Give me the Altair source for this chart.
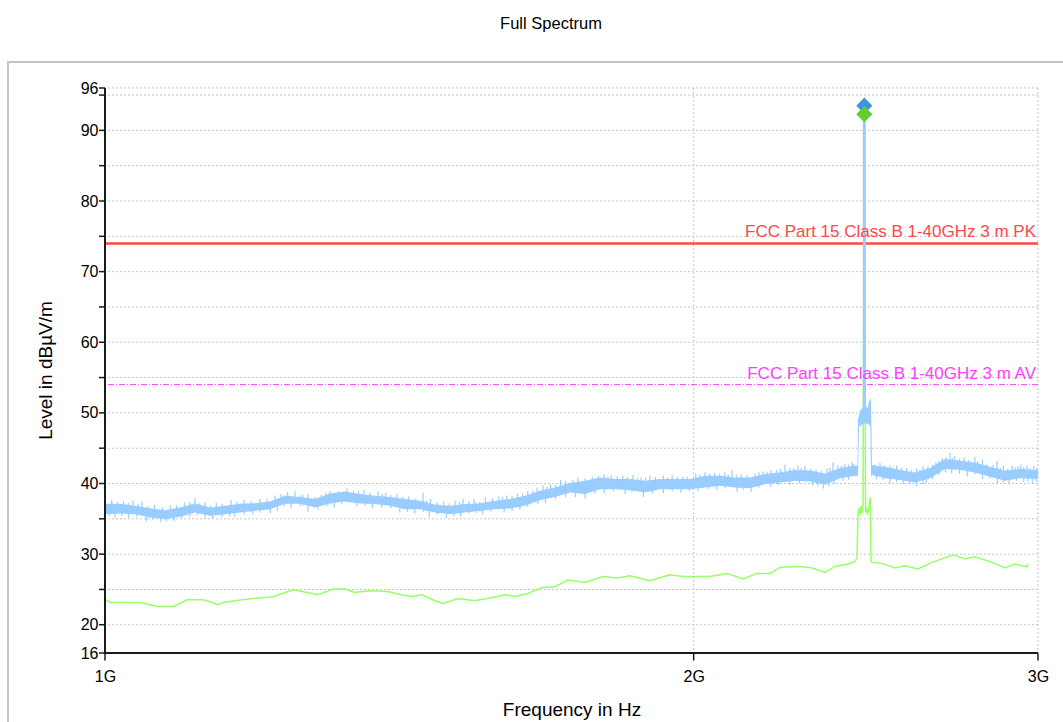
import altair as alt
import pandas as pd

# Peak detector trace, drawn as the band between its lower and upper envelope
# frequency in GHz, level in dBµV/m
pk_freq = [1.0000, 1.0178, 1.0360, 1.0544, 1.0732, 1.0923, 1.1118, 1.1316, 1.1518, 1.1723,
           1.1932, 1.2145, 1.2361, 1.2581, 1.2806, 1.3034, 1.3266, 1.3502, 1.3743, 1.3988,
           1.4237, 1.4490, 1.4749, 1.5011, 1.5279, 1.5551, 1.5828, 1.6110, 1.6397, 1.6689,
           1.6987, 1.7289, 1.7597, 1.7911, 1.8230, 1.8555, 1.8885, 1.9222, 1.9564, 1.9913,
           2.0268, 2.0629, 2.0996, 2.1370, 2.1751, 2.2139, 2.2533, 2.2935, 2.3344, 2.3760,
           2.4184, 2.4256, 2.4270, 2.4299, 2.4327, 2.4356, 2.4385, 2.4413, 2.4451, 2.4486,
           2.4515, 2.4543, 2.4572, 2.4601, 2.4624, 2.4644, 2.4673, 2.5053, 2.5500, 2.5954,
           2.6417, 2.6888, 2.7367, 2.7854, 2.8351, 2.8856, 2.9370, 3.0000]
pk_low = [35.66, 35.75, 35.66, 35.18, 34.95, 35.28, 35.90, 35.42, 35.66, 35.90,
          36.13, 36.37, 37.12, 37.12, 36.60, 37.17, 37.45, 37.17, 37.08, 36.84,
          36.37, 36.37, 35.90, 35.66, 35.90, 36.13, 36.37, 36.46, 36.84, 37.64,
          38.10, 38.73, 38.50, 39.20, 39.20, 39.06, 38.73, 39.20, 39.20, 39.20,
          39.43, 39.67, 39.43, 39.34, 39.90, 40.14, 40.38, 40.30, 39.82, 40.76,
          41.09, 41.09, 41.00, 47.80, 48.40, 48.00, 48.50, 48.30, 48.60, 48.20,
          48.60, 48.30, 48.50, 48.20, 48.00, 41.00, 41.20, 40.76, 40.48, 40.14,
          40.76, 42.04, 41.90, 41.56, 40.95, 40.38, 40.76, 40.62]
pk_high = [37.12, 37.12, 36.84, 36.50, 36.23, 36.60, 37.17, 36.60, 36.84, 37.12,
           37.20, 37.45, 38.26, 38.10, 37.80, 38.58, 38.87, 38.50, 38.26, 38.10,
           37.80, 37.55, 36.98, 36.84, 37.08, 37.17, 37.55, 37.80, 38.26, 38.97,
           39.43, 40.07, 40.38, 40.85, 40.62, 40.62, 40.38, 40.62, 40.62, 40.62,
           41.09, 41.09, 40.85, 40.85, 41.33, 41.56, 41.90, 41.85, 41.42, 42.18,
           42.51, 42.50, 49.10, 49.60, 50.50, 50.20, 50.80, 50.50, 50.90, 50.40,
           50.90, 50.60, 51.30, 51.80, 52.00, 51.90, 42.60, 42.37, 41.90, 41.56,
           42.18, 43.46, 43.22, 42.98, 42.37, 41.80, 42.04, 41.90]

# Noise spikes poking out above the peak band
spike_up_freq = [1.008, 1.015, 1.022, 1.028, 1.0335, 1.040, 1.0445, 1.052, 1.060, 1.070,
                 1.080, 1.088, 1.098, 1.105, 1.1118, 1.118, 1.125, 1.132, 1.140, 1.148,
                 1.160, 1.168, 1.178, 1.188, 1.200, 1.210, 1.2216, 1.230, 1.240, 1.2507,
                 1.262, 1.270, 1.280, 1.290, 1.297, 1.3034, 1.316, 1.3297, 1.340, 1.348,
                 1.3566, 1.366, 1.3791, 1.386, 1.392, 1.400, 1.410, 1.420, 1.430, 1.442,
                 1.4542, 1.460, 1.467, 1.478, 1.490, 1.500, 1.510, 1.518, 1.5243, 1.535,
                 1.5442, 1.555, 1.565, 1.578, 1.590, 1.597, 1.605, 1.615, 1.625, 1.635,
                 1.645, 1.655, 1.6631, 1.6748, 1.682, 1.690, 1.700, 1.710, 1.720, 1.735,
                 1.745, 1.760, 1.775, 1.788, 1.800, 1.808, 1.815, 1.828, 1.840, 1.850,
                 1.8621, 1.872, 1.880, 1.890, 1.8997, 1.912, 1.930, 1.940, 1.950, 1.962,
                 1.975, 1.985, 2.005, 2.015, 2.0268, 2.038, 2.050, 2.062, 2.075, 2.083,
                 2.0924, 2.104, 2.115, 2.130, 2.150, 2.160, 2.170, 2.180, 2.190, 2.205,
                 2.215, 2.2270, 2.240, 2.250, 2.2613, 2.270, 2.280, 2.295, 2.310, 2.325,
                 2.340, 2.348, 2.3566, 2.370, 2.380, 2.390, 2.400, 2.410, 2.415, 2.475,
                 2.4906, 2.505, 2.520, 2.530, 2.540, 2.555, 2.570, 2.585, 2.600, 2.610,
                 2.620, 2.635, 2.650, 2.660, 2.670, 2.680, 2.692, 2.7047, 2.712, 2.720,
                 2.735, 2.750, 2.765, 2.7854, 2.795, 2.810, 2.825, 2.845, 2.8586, 2.870,
                 2.880, 2.895, 2.910, 2.920, 2.930, 2.940, 2.950, 2.9614, 2.972, 2.985,
                 2.995]
spike_up_level = [37.7, 37.4, 37.5, 37.3, 37.6, 37.1, 37.5, 36.8, 37.0, 36.6,
                  36.9, 36.9, 37.3, 37.4, 37.9, 37.2, 37.4, 36.9, 37.3, 37.1,
                  37.6, 37.4, 37.7, 37.5, 37.8, 37.8, 38.3, 38.5, 38.8, 38.9,
                  38.4, 38.5, 38.1, 38.4, 38.7, 38.9, 38.9, 39.3, 39.0, 38.9,
                  39.1, 38.7, 38.9, 38.5, 38.7, 38.4, 38.5, 38.1, 38.2, 37.9,
                  38.7, 37.6, 37.8, 37.3, 37.5, 37.2, 37.6, 37.4, 37.8, 37.5,
                  37.8, 37.5, 38.0, 37.9, 38.2, 38.1, 38.3, 38.2, 38.6, 38.6,
                  38.9, 39.0, 39.4, 39.7, 39.5, 39.9, 39.8, 40.5, 40.4, 40.5,
                  40.8, 40.7, 41.0, 41.1, 41.3, 41.0, 41.2, 41.0, 41.1, 40.9,
                  41.2, 40.8, 40.9, 40.8, 41.1, 40.9, 41.1, 40.9, 41.2, 40.9,
                  41.0, 41.0, 41.4, 41.3, 41.6, 41.4, 41.5, 41.4, 41.6, 41.3,
                  41.9, 41.2, 41.3, 41.2, 41.4, 41.6, 41.7, 41.7, 41.9, 41.9,
                  42.1, 42.7, 42.2, 42.2, 42.6, 42.2, 42.5, 42.1, 42.0, 41.8,
                  42.1, 42.2, 43.0, 42.6, 42.5, 42.8, 42.7, 43.0, 42.8, 42.7,
                  42.9, 42.6, 42.6, 42.3, 42.5, 42.2, 42.2, 41.9, 42.1, 41.9,
                  42.4, 42.4, 42.7, 43.0, 43.2, 43.6, 43.7, 44.4, 43.6, 43.9,
                  43.5, 43.7, 43.3, 43.8, 43.1, 43.4, 42.7, 42.6, 43.2, 42.2,
                  42.5, 42.1, 42.6, 42.3, 42.4, 42.7, 42.3, 42.6, 42.2, 42.5,
                  42.2]

# Noise dips reaching below the peak band
spike_down_freq = [1.005, 1.012, 1.020, 1.028, 1.038, 1.050, 1.058, 1.068, 1.075, 1.085,
                   1.095, 1.105, 1.115, 1.125, 1.135, 1.148, 1.158, 1.165, 1.178, 1.190,
                   1.200, 1.215, 1.225, 1.235, 1.245, 1.258, 1.270, 1.285, 1.298, 1.310,
                   1.322, 1.345, 1.358, 1.370, 1.385, 1.400, 1.415, 1.428, 1.440, 1.455,
                   1.465, 1.480, 1.495, 1.508, 1.520, 1.535, 1.548, 1.560, 1.575, 1.600,
                   1.615, 1.630, 1.645, 1.665, 1.680, 1.700, 1.720, 1.740, 1.760, 1.780,
                   1.800, 1.820, 1.845, 1.860, 1.885, 1.905, 1.930, 1.950, 1.970, 1.990,
                   2.010, 2.035, 2.055, 2.075, 2.105, 2.120, 2.140, 2.160, 2.190, 2.210,
                   2.240, 2.265, 2.300, 2.315, 2.330, 2.345, 2.360, 2.385, 2.400, 2.480,
                   2.500, 2.520, 2.540, 2.560, 2.580, 2.600, 2.620, 2.630, 2.650, 2.670,
                   2.690, 2.710, 2.735, 2.760, 2.785, 2.810, 2.835, 2.860, 2.880, 2.900,
                   2.925, 2.950, 2.965, 2.980, 2.993]
spike_down_level = [35.4, 35.2, 35.4, 35.2, 35.3, 34.7, 34.9, 34.5, 34.7, 34.7,
                    35.1, 35.3, 35.5, 35.2, 35.0, 35.3, 35.4, 35.3, 35.6, 35.6,
                    35.9, 35.8, 36.1, 36.8, 36.5, 36.8, 36.0, 36.3, 36.8, 36.6,
                    37.1, 36.8, 36.9, 36.5, 36.6, 36.5, 35.9, 36.0, 35.8, 36.0,
                    35.3, 35.6, 35.1, 35.4, 35.3, 35.7, 35.8, 35.6, 36.0, 35.9,
                    36.1, 36.3, 36.7, 37.1, 37.2, 37.8, 38.1, 38.1, 37.9, 38.6,
                    38.6, 38.9, 38.5, 38.8, 38.1, 38.6, 38.6, 38.9, 38.7, 38.9,
                    38.9, 39.2, 39.1, 39.3, 38.8, 39.1, 38.8, 39.4, 39.5, 39.8,
                    39.8, 40.0, 39.7, 39.6, 39.3, 39.6, 40.0, 40.4, 40.5, 40.6,
                    40.5, 40.0, 40.2, 39.9, 39.9, 39.6, 39.9, 40.1, 40.6, 41.2,
                    41.6, 41.4, 41.4, 41.0, 41.3, 40.6, 40.7, 40.0, 40.1, 39.9,
                    40.4, 40.2, 40.3, 40.1, 40.3]

# Average detector trace
av_freq = [1.0000, 1.0059, 1.0421, 1.0507, 1.0632, 1.0834, 1.0923, 1.1014, 1.1223, 1.1316,
           1.1423, 1.1491, 1.1723, 1.1904, 1.2187, 1.2478, 1.2685, 1.2850, 1.3080, 1.3266,
           1.3423, 1.3630, 1.3955, 1.4187, 1.4355, 1.4525, 1.4749, 1.4888, 1.5153, 1.5460,
           1.5772, 1.6016, 1.6206, 1.6456, 1.6729, 1.6987, 1.7249, 1.7597, 1.7975, 1.8273,
           1.8555, 1.8997, 1.9450, 1.9750, 2.0078, 2.0387, 2.0800, 2.1196, 2.1547, 2.1881,
           2.2139, 2.2586, 2.2935, 2.3071, 2.3344, 2.3622, 2.3985, 2.4184, 2.4242, 2.4270,
           2.4299, 2.4327, 2.4356, 2.4385, 2.4413, 2.4451, 2.4486, 2.4515, 2.4543, 2.4572,
           2.4601, 2.4624, 2.4644, 2.4673, 2.4965, 2.5350, 2.5651, 2.6046, 2.6479, 2.7143,
           2.7529, 2.7854, 2.8418, 2.8856, 2.9198, 2.9614, 2.9649]
av_level = [23.64, 23.16, 23.16, 22.93, 22.59, 22.59, 23.01, 23.54, 23.54, 23.25,
            22.83, 23.16, 23.49, 23.72, 23.96, 24.95, 24.57, 24.25, 25.05, 25.05,
            24.57, 24.81, 24.71, 24.20, 24.00, 24.25, 23.40, 23.01, 23.72, 23.40,
            23.87, 24.25, 24.00, 24.43, 25.28, 25.38, 26.33, 25.99, 26.84, 26.61,
            26.94, 26.23, 27.08, 26.84, 26.84, 26.84, 27.27, 26.47, 27.27, 27.27,
            28.12, 28.26, 28.12, 27.89, 27.41, 28.26, 28.60, 28.92, 29.53, 35.70,
            36.50, 35.50, 36.80, 35.80, 36.40, 92.30, 36.00, 36.60, 35.60, 36.20,
            37.00, 38.00, 29.00, 28.83, 28.69, 28.03, 28.36, 27.89, 28.83, 29.92,
            29.30, 29.63, 28.83, 28.03, 28.60, 28.21, 28.60]

# Final measurement markers on the carrier
marker_freq = [2.4451]
marker_pk = [93.5]
marker_av = [92.3]

limit_levels = [74, 54]
limit_labels = ["FCC Part 15 Class B 1-40GHz 3 m PK", "FCC Part 15 Class B 1-40GHz 3 m AV"]
limit_colors = ["#ff4747", "#ff3dff"]

x_ticks = [1, 2, 3]
y_ticks = [16, 20, 25, 30, 35, 40, 45, 50, 55, 60, 65, 70, 75, 80, 85, 90, 95, 96]

FONT = "Liberation Sans"
PK_COLOR = "#99ccff"
AV_COLOR = "#99ff66"
GRID_COLOR = "#c4c4c4"
INK = "#1a1a1a"

pk_df = pd.DataFrame({"freq": pk_freq, "low": pk_low, "high": pk_high})
up_df = pd.DataFrame({"freq": spike_up_freq, "level": spike_up_level})
down_df = pd.DataFrame({"freq": spike_down_freq, "level": spike_down_level})
av_df = pd.DataFrame({"freq": av_freq, "level": av_level})
marker_df = pd.DataFrame({"freq": marker_freq, "pk": marker_pk, "av": marker_av})
xtick_df = pd.DataFrame({"freq": x_ticks})
ytick_df = pd.DataFrame({"level": y_ticks})
one = pd.DataFrame({"k": [0]})

x_scale = alt.Scale(type="log", domain=[1, 3], nice=False)
y_scale = alt.Scale(domain=[16, 96], nice=False, zero=False)

# Axes carry labels and titles; grid, axis lines and ticks are drawn as marks
x_axis = alt.Axis(
    values=x_ticks, labelExpr="datum.value + 'G'", title="Frequency in Hz",
    grid=False, domain=False, ticks=False, tickSize=0,
    labelPadding=15, labelFlush=False, labelOverlap=False,
    titleY=47, titleBaseline="top",
)
y_axis = alt.Axis(
    values=y_ticks,
    labelExpr="(datum.value % 10 == 0 || datum.value == 16 || datum.value == 96) ? datum.label : ''",
    title="Level in dBµV/m",
    grid=False, domain=False, ticks=False, tickSize=0,
    labelPadding=7, labelFlush=False, labelOverlap=False,
    titleX=-50, titleY=282, titleAlign="center", titleBaseline="bottom",
)


def X(field):
    return alt.X(field, type="quantitative", scale=x_scale, axis=x_axis)


def Y(field):
    return alt.Y(field, type="quantitative", scale=y_scale, axis=y_axis)


# Outer panel frame and heading
frame = alt.Chart(one).mark_rect(fill=None, stroke="#c4c4c4", strokeWidth=2).encode(
    x=alt.value(-97), x2=alt.value(975), y=alt.value(-26), y2=alt.value(660)
)
heading = alt.Chart(one).mark_text(
    text="Full Spectrum", font=FONT, fontSize=16.5, color="#000000", baseline="alphabetic"
).encode(x=alt.value(446), y=alt.value(-59))

# Dotted grid
grid_y = alt.Chart(ytick_df).transform_filter("datum.level > 16").mark_rule(
    color=GRID_COLOR, strokeDash=[2, 2], strokeWidth=1
).encode(y=Y("level"))
grid_x = alt.Chart(xtick_df).transform_filter("datum.freq > 1").mark_rule(
    color=GRID_COLOR, strokeDash=[2, 2], strokeWidth=1
).encode(x=X("freq"))

# Axis lines and tick marks, allowed to sit outside the plotting area
axis_line_x = alt.Chart(one).mark_rect(color=INK, clip=False, opacity=1).encode(
    x=alt.value(-1), x2=alt.value(933), y=alt.value(564), y2=alt.value(566)
)
axis_line_y = alt.Chart(one).mark_rect(color=INK, clip=False, opacity=1).encode(
    x=alt.value(-1), x2=alt.value(1), y=alt.value(0), y2=alt.value(566)
)
ticks_y = alt.Chart(ytick_df).mark_tick(
    color=INK, thickness=1.5, size=6, clip=False, opacity=1, orient="horizontal"
).encode(y=Y("level"), x=alt.value(-3))
ticks_x = alt.Chart(xtick_df).mark_tick(
    color=INK, thickness=1.5, size=7, clip=False, opacity=1, orient="vertical"
).encode(x=X("freq"), y=alt.value(569))

# Average detector trace
av_line = alt.Chart(av_df).mark_line(color=AV_COLOR, strokeWidth=1.5).encode(
    x=X("freq"), y=Y("level")
)

# Limit lines with their labels
pk_limit = alt.Chart(one).mark_rule(color=limit_colors[0], strokeWidth=2.5).encode(
    y=alt.datum(limit_levels[0], type="quantitative", scale=y_scale, axis=y_axis)
)
av_limit = alt.Chart(one).mark_rule(
    color=limit_colors[1], strokeWidth=1, strokeDash=[6, 2, 1, 2]
).encode(y=alt.datum(limit_levels[1], type="quantitative", scale=y_scale, axis=y_axis))
pk_label = alt.Chart(one).mark_text(
    text=limit_labels[0], font=FONT, fontSize=17, color=limit_colors[0],
    align="right", baseline="bottom", dx=-2, dy=-2,
).encode(x=alt.datum(3, type="quantitative", scale=x_scale, axis=x_axis),
         y=alt.datum(limit_levels[0], type="quantitative", scale=y_scale, axis=y_axis))
av_label = alt.Chart(one).mark_text(
    text=limit_labels[1], font=FONT, fontSize=17, color=limit_colors[1],
    align="right", baseline="bottom", dx=-2, dy=-2,
).encode(x=alt.datum(3, type="quantitative", scale=x_scale, axis=x_axis),
         y=alt.datum(limit_levels[1], type="quantitative", scale=y_scale, axis=y_axis))

# Peak detector band, its noise spikes and the carrier
pk_band = alt.Chart(pk_df).mark_area(color=PK_COLOR, opacity=1).encode(
    x=X("freq"), y=Y("low"), y2="high"
)
pk_up = alt.Chart(up_df).transform_calculate(base="datum.level - 1.5").mark_rule(
    color=PK_COLOR, strokeWidth=1.2
).encode(x=X("freq"), y=Y("level"), y2="base:Q")
pk_down = alt.Chart(down_df).transform_calculate(base="datum.level + 1.5").mark_rule(
    color=PK_COLOR, strokeWidth=1.2
).encode(x=X("freq"), y=Y("level"), y2="base:Q")
pk_carrier = alt.Chart(marker_df).transform_calculate(base="49").mark_rule(
    color=PK_COLOR, strokeWidth=3
).encode(x=X("freq"), y=Y("pk"), y2="base:Q")

pk_marker = alt.Chart(marker_df).mark_point(
    shape="diamond", filled=True, size=260, color="#3d96dc", opacity=1
).encode(x=X("freq"), y=Y("pk"))
av_marker = alt.Chart(marker_df).mark_point(
    shape="diamond", filled=True, size=260, color="#66cc33", opacity=1
).encode(x=X("freq"), y=Y("av"))

chart = alt.layer(
    av_line, frame, heading, grid_y, grid_x,
    pk_limit, av_limit, pk_band, pk_up, pk_down,
    pk_carrier, pk_marker, av_marker, pk_label, av_label,
    axis_line_x, axis_line_y, ticks_y, ticks_x,
).properties(
    width=933, height=565,
    autosize=alt.AutoSizeParams(type="none"),
    padding={"left": 105, "top": 88, "right": 25, "bottom": 69},
    background="#ffffff",
).configure_view(stroke=None).configure_axis(
    labelFont=FONT, labelFontSize=16, labelColor="#000000",
    titleFont=FONT, titleFontSize=19, titleFontWeight="normal", titleColor="#000000",
)

chart.save("out.html", embed_options={"renderer": "svg", "actions": False})
